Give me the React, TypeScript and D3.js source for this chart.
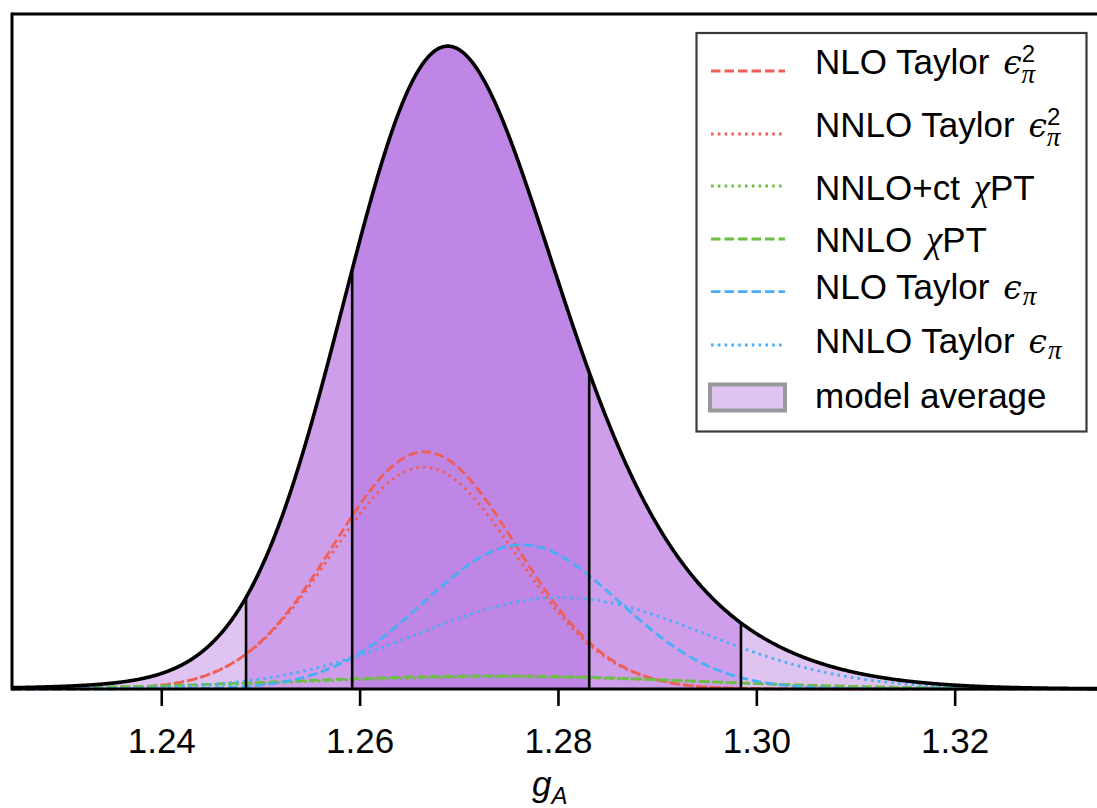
import React from "react";
import * as d3 from "d3";

// model components: centre, width, weight
const modelNames = [
  "NLO Taylor eps2",
  "NNLO Taylor eps2",
  "NNLO+ct chiPT",
  "NNLO chiPT",
  "NLO Taylor eps",
  "NNLO Taylor eps",
];
const modelMeans = [1.2665, 1.2664, 1.2745, 1.2735, 1.2763, 1.2803];
const modelSds = [0.0092, 0.0093, 0.02, 0.02, 0.0098, 0.0144];
const modelWeights = [0.2916, 0.2759, 0.0324, 0.0351, 0.1889, 0.1761];

// 95% and 68% bounds of the model average
const outerBand = [1.2485, 1.2984];
const innerBand = [1.2592, 1.2831];

const xTicks = [1.24, 1.26, 1.28, 1.3, 1.32];
const xDomain = [1.2249, 1.3343];

// legend labels: base text, math symbol, superscript, subscript, trailing text
const labelBase = ["NLO Taylor ", "NNLO Taylor ", "NNLO+ct ", "NNLO ", "NLO Taylor ", "NNLO Taylor "];
const labelSym = ["ϵ", "ϵ", "χ", "χ", "ϵ", "ϵ"];
const labelSup = ["2", "2", "", "", "", ""];
const labelSub = ["π", "π", "", "", "π", "π"];
const labelAfter = ["", "", "PT", "PT", "", ""];

const lineColors = ["#ef5f57", "#ef5f57", "#6cbf42", "#6cbf42", "#4aaef5", "#4aaef5"];
const lineDash = ["9.5,4", "2.6,4.2", "2.6,4.2", "9.5,4", "9.5,4", "2.6,4.2"];

const W = 1097;
const H = 808;
const left = 12;
const top = 14;
const bottom = 689;

const SANS = "'Liberation Sans', Arial, Helvetica, sans-serif";
const EPS = "'DejaVu Serif', serif";
const GREEK = "'Liberation Serif', 'DejaVu Serif', serif";

const gauss = (x: number, m: number, s: number) =>
  Math.exp(-((x - m) ** 2) / (2 * s * s)) / (s * Math.sqrt(2 * Math.PI));

const comp = (i: number, x: number) => modelWeights[i] * gauss(x, modelMeans[i], modelSds[i]);
const avg = (x: number) => modelNames.reduce((acc, _, i) => acc + comp(i, x), 0);

const grid = (a: number, b: number, n = 400) => d3.range(n + 1).map(k => a + ((b - a) * k) / n);

export default function App() {
  const x = d3.scaleLinear().domain(xDomain).range([left, W]);
  const full = grid(xDomain[0], xDomain[1], 1200);
  const maxAvg = d3.max(full, avg) as number;
  const y = d3.scaleLinear().domain([0, maxAvg * 1.05]).range([bottom, top]);

  const area = d3.area<number>().x(d => x(d)).y0(y(0)).y1(d => y(avg(d)));
  const line = d3.line<number>().x(d => x(d)).y(d => y(avg(d)));

  const bounds = [outerBand[0], innerBand[0], innerBand[1], outerBand[1]];
  const rowY = [71, 134, 186, 239, 291.7, 345];
  const textY = [73.5, 136.5, 200, 252, 299, 353];

  return (
    <svg width={W} height={H} style={{ position: "absolute", left: 0, top: 0 }}>
      <rect width={W} height={H} fill="white" />
      {/* shaded model average */}
      <path d={area(full) || ""} fill="#dfc3f1" />
      <path d={area(grid(outerBand[0], outerBand[1])) || ""} fill="#cf9eeb" />
      <path d={area(grid(innerBand[0], innerBand[1])) || ""} fill="#bf86e5" />

      {/* individual fits */}
      {modelNames.map((name, i) => (
        <path
          key={name}
          d={d3.line<number>().x(d => x(d)).y(d => y(comp(i, d)))(full) || ""}
          fill="none"
          stroke={lineColors[i]}
          strokeWidth={2.8}
          strokeDasharray={lineDash[i]}
        />
      ))}

      <path d={line(full) || ""} fill="none" stroke="black" strokeWidth={3.6} />
      {bounds.map(b => (
        <line key={b} x1={x(b)} x2={x(b)} y1={y(0)} y2={y(avg(b))} stroke="black" strokeWidth={2.6} />
      ))}

      {/* spines */}
      <line x1={left} x2={W} y1={top} y2={top} stroke="black" strokeWidth={3} />
      <line x1={left} x2={left} y1={top - 1.5} y2={bottom + 1.5} stroke="black" strokeWidth={3} />
      <line x1={left} x2={W} y1={bottom} y2={bottom} stroke="black" strokeWidth={3} />

      {/* x axis */}
      {xTicks.map(t => (
        <g key={t} transform={`translate(${x(t)},0)`}>
          <line y1={bottom} y2={bottom + 17} stroke="black" strokeWidth={2.6} />
          <text y={752.5} textAnchor="middle" fontFamily={SANS} fontSize={35} fill="black">
            {d3.format(".2f")(t)}
          </text>
        </g>
      ))}
      <text x={532} y={796} fontFamily={SANS} fontSize={35} fontStyle="italic" fill="black">
        g<tspan fontSize={24} dy={8}>A</tspan>
      </text>

      {/* legend */}
      <rect x={696.5} y={33} width={390} height={398.5} fill="white" stroke="#3a3a3a" strokeWidth={2.2} />
      {modelNames.map((name, i) => (
        <g key={name}>
          <line
            x1={711}
            x2={785}
            y1={rowY[i]}
            y2={rowY[i]}
            stroke={lineColors[i]}
            strokeWidth={2.8}
            strokeDasharray={lineDash[i]}
          />
          <text x={815} y={textY[i]} fontFamily={SANS} fontSize={35} fill="black">
            <tspan>{labelBase[i]}</tspan>
            <tspan
              fontFamily={labelSym[i] === "ϵ" ? EPS : GREEK}
              fontStyle="italic"
              fontSize={labelSym[i] === "ϵ" ? 33 : 37}
              dx={4}
            >
              {labelSym[i]}
            </tspan>
            {labelSup[i] && <tspan fontSize={24} dy={-12}>{labelSup[i]}</tspan>}
            {labelSub[i] && (
              <tspan
                fontFamily={GREEK}
                fontStyle="italic"
                fontSize={27}
                dx={labelSup[i] ? -13.5 : 1}
                dy={labelSup[i] ? 21 : 6}
              >
                {labelSub[i]}
              </tspan>
            )}
            {labelAfter[i] && <tspan>{labelAfter[i]}</tspan>}
          </text>
        </g>
      ))}
      <rect x={710} y={384.5} width={75} height={26} fill="#dfc3f1" stroke="#999999" strokeWidth={4} />
      <text x={815} y={407.5} fontFamily={SANS} fontSize={35} fill="black">
        model average
      </text>
    </svg>
  );
}
